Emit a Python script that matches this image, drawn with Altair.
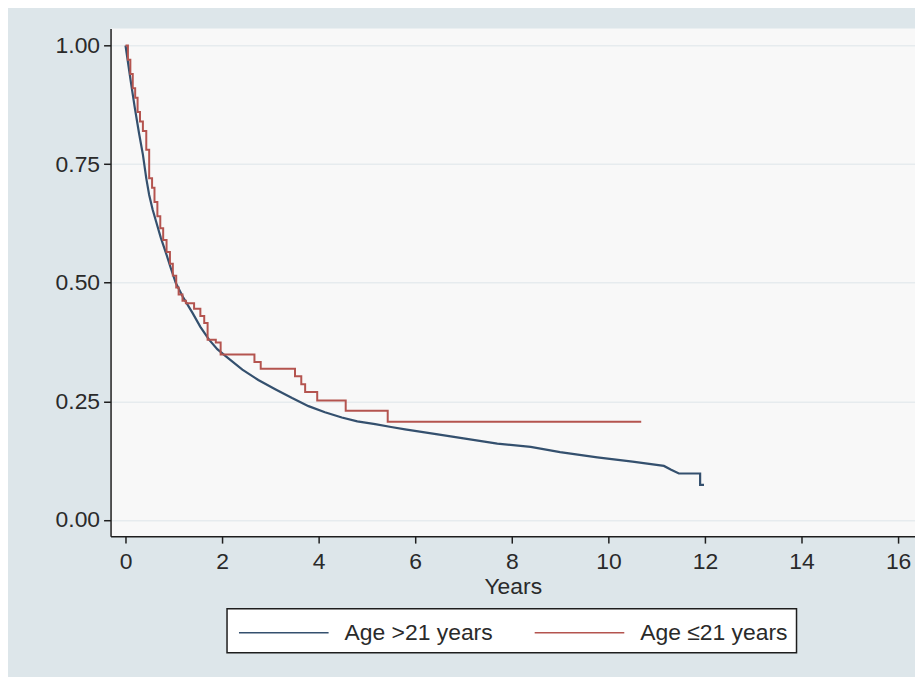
import altair as alt
import pandas as pd

# ---- data ----
groups = ["Age >21 years", "Age \u226421 years"]
colors = ["#34506e", "#b4544f"]

older_years = [0.0, 0.1, 0.19, 0.28, 0.36, 0.43, 0.49, 0.56, 0.63, 0.73, 0.84, 0.94,
               1.04, 1.2, 1.39, 1.55, 1.73, 1.9, 2.08, 2.42, 2.75, 3.11, 3.45, 3.79,
               4.13, 4.48, 4.8, 5.17, 5.5, 5.79, 6.5, 7.0, 7.7, 8.39, 9.0, 9.77, 10.5,
               11.15, 11.3, 11.46, 11.9, 11.9, 11.98]
older_surv = [1.0, 0.93, 0.87, 0.815, 0.77, 0.72, 0.685, 0.655, 0.63, 0.595, 0.562, 0.53,
              0.50, 0.468, 0.436, 0.407, 0.38, 0.36, 0.345, 0.317, 0.295, 0.275, 0.257, 0.240,
              0.227, 0.216, 0.208, 0.202, 0.196, 0.191, 0.180, 0.172, 0.161, 0.154, 0.143, 0.132, 0.123,
              0.114, 0.106, 0.098, 0.098, 0.074, 0.074]

young_years = [0.0, 0.05, 0.1, 0.15, 0.2, 0.25, 0.3, 0.36, 0.43, 0.49, 0.55, 0.6, 0.66,
               0.72, 0.78, 0.85, 0.92, 0.98, 1.05, 1.1, 1.18, 1.25, 1.42, 1.55, 1.63,
               1.70, 1.87, 1.97, 2.67, 2.80, 3.51, 3.64, 3.72, 3.97, 4.56, 5.43, 10.68]
young_surv = [1.0, 0.97, 0.94, 0.91, 0.89, 0.86, 0.84, 0.82, 0.78, 0.72, 0.70, 0.67, 0.64,
              0.615, 0.59, 0.565, 0.54, 0.515, 0.49, 0.475, 0.462, 0.457, 0.445, 0.43, 0.415,
              0.38, 0.374, 0.349, 0.333, 0.319, 0.303, 0.286, 0.27, 0.252, 0.230, 0.207, 0.207]

y_ticks = [0.0, 0.25, 0.5, 0.75, 1.0]
x_ticks = [0, 2, 4, 6, 8, 10, 12, 14, 16]

older = pd.DataFrame({"years": older_years, "surv": older_surv,
                      "group": groups[0], "idx": range(len(older_years))})
young = pd.DataFrame({"years": young_years, "surv": young_surv,
                      "group": groups[1], "idx": range(len(young_years))})

FONT = "Liberation Sans"
TXT = "#2a2a2a"

x_enc = alt.X("years:Q",
              scale=alt.Scale(domain=[-0.31, 16.35], nice=False, zero=False),
              axis=alt.Axis(values=x_ticks, grid=False, title="Years",
                            titleFontSize=23, titleFontWeight="normal", titleColor=TXT,
                            titlePadding=3, labelFontSize=23, labelColor=TXT,
                            tickSize=7, tickWidth=1.5, tickColor="#1e1e1e",
                            domainColor="#1e1e1e", domainWidth=1.5, labelPadding=7,
                            labelFont=FONT, titleFont=FONT))
y_enc = alt.Y("surv:Q",
              scale=alt.Scale(domain=[-0.034, 1.036], nice=False, zero=False),
              axis=alt.Axis(values=y_ticks, format=".2f", grid=True, gridColor="#e6ebee",
                            gridWidth=1.5, title=None, labelFontSize=23, labelColor=TXT,
                            tickSize=7, tickWidth=1.5, tickColor="#1e1e1e",
                            domainColor="#1e1e1e", domainWidth=1.5, labelPadding=4,
                            labelFont=FONT))
color_enc = alt.Color("group:N",
                      scale=alt.Scale(domain=groups, range=colors),
                      legend=alt.Legend(title=None, orient="none", direction="horizontal",
                                        legendX=117, legendY=583,
                                        symbolType="M-3,0H3", symbolSize=900,
                                        symbolOffset=33,
                                        symbolStrokeWidth=1.6, labelFontSize=23,
                                        labelFont=FONT, labelColor=TXT,
                                        labelOffset=45, columnPadding=38, padding=8,
                                        fillColor="white", strokeColor="#1e1e1e"))

line_old = alt.Chart(older).mark_line(strokeWidth=2.2, interpolate="linear").encode(
    x=x_enc, y=y_enc, color=color_enc, order="idx:Q")
line_young = alt.Chart(young).mark_line(strokeWidth=2, interpolate="step-after").encode(
    x=x_enc, y=y_enc, color=color_enc, order="idx:Q")

chart = alt.layer(line_old, line_young).properties(
    width=808, height=510,
    background="#dde6ea",
    autosize=alt.AutoSizeParams(type="none"),
    padding={"left": 103, "top": 19, "right": 0, "bottom": 140},
).configure_view(fill="#f8f8f8", strokeWidth=0).configure_legend(strokeWidth=1.5, cornerRadius=0)

chart.save("out.html", embed_options={"renderer": "svg", "actions": False})
